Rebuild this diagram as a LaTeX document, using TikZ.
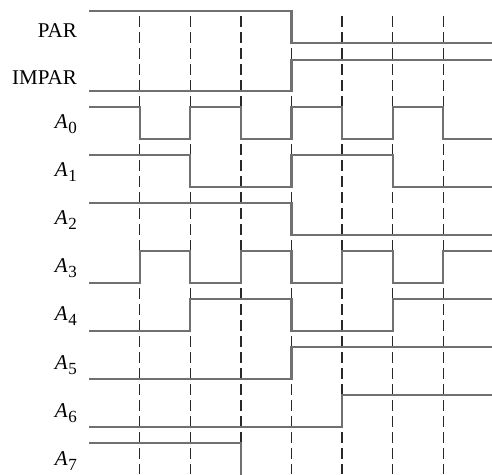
\documentclass[tikz,border=0pt]{standalone}
\usepackage{fontspec}
\setmainfont{Liberation Serif}
\usetikzlibrary{positioning}

\definecolor{wavegray}{RGB}{112,112,112}
\definecolor{gridgray}{RGB}{40,40,40}

\newcommand{\sigA}[1]{\textit{A}\kern0.5pt\raisebox{-5pt}{\fontsize{17}{17}\selectfont #1}}

\begin{document}
\begin{tikzpicture}[x=50.6pt, y=-1pt,
    wave/.style={draw=wavegray, line width=2.2pt},
    tick/.style={draw=gridgray, line width=1.4pt, dash pattern=on 11pt off 5pt},
    lbl/.style={anchor=base east, inner sep=0pt, font=\fontsize{21}{24}\selectfont}]
  \useasboundingbox (-1.759,0) rectangle (7.964,474);

  \foreach \t in {1,...,7}
    \draw[tick] (\t,16) -- (\t,474);

  \node (par) [lbl] at (-0.237,37) {PAR};
  \node (impar) [lbl] at (-0.237,84) {IMPAR};
  \foreach \i in {0,...,7}
    \node (a\i) [lbl] at (-0.237,{128+48.2*\i}) {\sigA{\i}};

  \draw[wave] (0,11) -| (4,43) -- (7.964,43);
  \draw[wave] (0,91) -| (4,60) -- (7.964,60);
  \draw[wave] (0,107) -| (1,139) -| (2,107) -| (3,139) -| (4,107) -| (5,139)
    -| (6,107) -| (7,139) -- (7.964,139);
  \draw[wave] (0,155) -| (2,187) -| (4,155) -| (6,187) -- (7.964,187);
  \draw[wave] (0,203) -| (4,235) -- (7.964,235);
  \draw[wave] (0,283) -| (1,251) -| (2,283) -| (3,251) -| (4,283) -| (5,251)
    -| (6,283) -| (7,251) -- (7.964,251);
  \draw[wave] (0,331) -| (2,299) -| (4,331) -| (6,299) -- (7.964,299);
  \draw[wave] (0,379) -| (4,347) -- (7.964,347);
  \draw[wave] (0,427) -| (5,395) -- (7.964,395);
  \draw[wave] (0,443) -| (3,476);
\end{tikzpicture}
\end{document}
